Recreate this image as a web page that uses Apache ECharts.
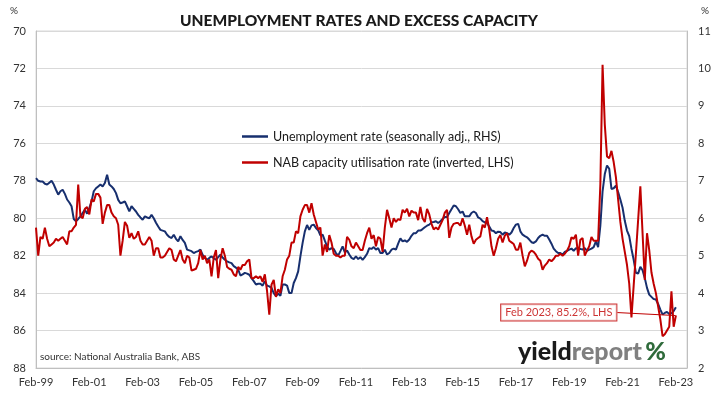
<!DOCTYPE html>
<html><head><meta charset="utf-8">
<script src="https://cdn.jsdelivr.net/npm/echarts@6/dist/echarts.min.js"></script>
<style>html,body{margin:0;padding:0;background:#fff}#c{width:718px;height:394px}</style>
</head><body><div id="c"></div>
<script>
// ---- data ----
const startYear = 1999, startMonth = 1; // Feb-99 (0-based month)
const monthCount = 294;                 // axis runs a few months past Feb-23
const monthNames = ['Jan','Feb','Mar','Apr','May','Jun','Jul','Aug','Sep','Oct','Nov','Dec'];
const tickLabels = ['Feb-99','Feb-01','Feb-03','Feb-05','Feb-07','Feb-09','Feb-11','Feb-13','Feb-15','Feb-17','Feb-19','Feb-21','Feb-23'];
const leftTicks = [70,72,74,76,78,80,82,84,86,88];
const rightTicks = [2,3,4,5,6,7,8,9,10,11];

// Unemployment rate, seasonally adjusted (%), monthly from Feb-99 (RHS)
const unemployment = [
 7.07,7.0,6.98,6.98,6.92,6.9,6.95,7.0,6.9,6.76,
 6.63,6.72,6.76,6.65,6.5,6.42,6.32,5.98,5.92,5.98,
 6.05,6.14,6.23,6.12,6.27,6.45,6.72,6.8,6.85,6.9,
 6.85,6.94,7.16,6.9,6.85,6.78,6.67,6.49,6.4,6.42,
 6.45,6.32,6.18,6.32,6.25,6.18,6.09,6.02,5.96,6.05,
 6.02,6.0,6.09,6.0,5.88,5.78,5.69,5.67,5.65,5.56,
 5.5,5.47,5.56,5.45,5.38,5.52,5.42,5.34,5.16,5.14,
 5.12,5.07,5.1,5.12,5.16,5.02,4.94,4.89,4.94,4.98,
 4.93,4.89,4.96,5.03,4.95,4.89,4.85,4.82,4.8,4.72,
 4.68,4.63,4.47,4.5,4.54,4.52,4.49,4.4,4.32,4.23,
 4.25,4.25,4.2,4.32,4.2,4.18,4.14,4.0,3.92,3.99,
 3.93,4.23,4.23,4.2,4.0,4.0,4.27,4.4,4.58,4.98,
 5.34,5.65,5.82,5.69,5.81,5.83,5.74,5.68,5.54,5.56,
 5.4,5.25,5.16,5.2,5.18,5.07,5.0,5.12,5.25,5.09,
 5.14,5.03,4.94,4.91,4.98,4.91,4.96,4.89,4.96,5.05,
 5.2,5.18,5.23,5.16,5.2,5.07,5.07,5.16,5.03,5.07,
 5.16,5.19,5.16,5.32,5.46,5.38,5.41,5.37,5.43,5.53,
 5.6,5.6,5.67,5.67,5.71,5.76,5.8,5.83,5.89,5.9,
 5.92,5.87,5.92,5.98,6.03,6.03,6.14,6.24,6.34,6.32,
 6.24,6.14,6.18,6.05,6.05,6.05,6.14,6.18,6.14,6.02,
 5.99,5.92,5.89,5.87,5.78,5.67,5.66,5.6,5.64,5.63,
 5.56,5.62,5.6,5.56,5.62,5.74,5.83,5.85,5.65,5.56,
 5.52,5.49,5.43,5.36,5.34,5.38,5.47,5.53,5.56,5.53,
 5.53,5.43,5.32,5.19,5.12,5.07,5.07,5.03,5.1,5.13,
 5.16,5.19,5.13,5.2,5.18,5.18,5.16,5.2,5.13,5.16,
 5.19,5.23,5.38,5.23,5.8,6.72,7.18,7.41,7.32,6.78,
 6.8,6.87,6.7,6.5,6.28,5.93,5.67,5.52,5.18,4.89,
 4.54,4.52,4.7,4.61,4.4,4.14,3.96,3.9,3.84,3.83,
 3.71,3.56,3.43,3.47,3.5,3.44,3.46,3.52,3.62
];

// NAB capacity utilisation rate (%), monthly from Feb-99 (LHS, inverted)
const capacity = [
 80.5,82.0,81.0,81.1,80.5,81.1,81.5,81.4,81.3,81.1,
 81.2,81.1,81.0,81.2,81.4,80.7,80.7,80.5,80.35,78.2,
 79.9,80.0,79.5,79.4,79.8,79.0,79.1,78.7,78.7,78.9,
 80.3,79.7,79.3,79.3,79.7,79.9,80.0,80.35,82.0,81.2,
 80.2,80.4,81.05,80.8,81.1,81.0,80.7,81.2,81.4,81.4,
 81.2,81.0,81.2,82.0,81.6,81.6,82.1,82.1,82.0,81.8,
 81.6,81.7,82.2,82.3,82.0,81.7,82.2,82.4,82.0,82.1,
 82.8,82.75,82.7,82.4,81.7,82.2,82.0,82.4,82.2,83.1,
 82.1,81.7,83.2,82.2,81.6,82.0,82.6,82.7,82.75,83.0,
 83.1,82.6,82.75,82.5,82.5,82.3,82.2,83.2,83.2,83.1,
 83.2,83.1,83.4,83.0,83.9,85.15,83.55,83.3,84.2,83.8,
 84.0,83.1,82.75,82.2,82.0,81.3,81.3,80.7,80.8,79.9,
 79.55,79.3,79.3,79.7,79.2,79.8,80.2,80.6,80.5,82.0,
 81.4,81.8,80.9,81.3,81.9,82.0,82.0,82.1,82.0,82.0,
 81.0,81.15,81.5,81.6,81.3,81.5,81.7,81.7,81.2,80.8,
 80.5,81.1,80.9,81.5,81.0,81.1,81.8,80.5,79.55,80.0,
 80.5,80.0,80.2,80.05,80.1,79.55,79.7,79.5,79.9,79.6,
 79.7,79.7,80.1,79.4,80.0,80.2,79.5,79.8,80.3,80.6,
 80.5,80.6,80.35,80.1,79.7,79.55,81.05,80.5,80.3,80.26,
 80.26,80.4,80.0,80.4,80.88,80.35,80.97,81.36,81.15,81.06,
 80.97,80.35,80.5,79.95,80.6,81.5,82.0,81.6,81.1,80.9,
 81.3,80.93,80.8,81.2,81.29,81.38,81.68,81.68,81.3,82.0,
 82.57,82.27,81.86,81.73,81.8,81.95,82.16,82.27,82.75,82.53,
 82.4,82.2,82.3,82.18,82.0,82.0,81.9,82.0,81.9,81.73,
 81.5,81.02,81.1,80.88,82.0,81.15,81.06,82.0,81.73,81.5,
 81.0,81.2,81.2,81.2,78.2,71.8,75.0,76.7,76.8,76.4,
 77.0,77.8,79.0,80.2,81.1,81.8,82.5,83.5,85.3,83.6,
 81.9,80.1,78.3,80.8,83.3,80.8,81.7,82.9,83.5,84.0,
 84.7,85.4,86.3,86.2,86.0,85.8,83.9,85.8,85.2
];

const annotationIndex = 288;
const annotationValue = 85.2;
const annotationText = 'Feb 2023, 85.2%, LHS';

// ---- chart ----
const categories = [];
for (let i = 0; i < monthCount; i++) {
  const mm = startMonth + i;
  const yy = startYear + Math.floor(mm / 12);
  categories.push(monthNames[mm % 12] + '-' + String(yy % 100).padStart(2, '0'));
}

const FONT = "Lato, 'Noto Sans', sans-serif";
const BLUE = '#172f6e', RED = '#c00000';
const chart = echarts.init(document.getElementById('c'));
chart.setOption({
  animation: false,
  backgroundColor: '#ffffff',
  title: {
    text: 'UNEMPLOYMENT RATES AND EXCESS CAPACITY',
    left: 'center', top: 8,
    textStyle: {fontFamily: FONT, fontSize: 15.5, fontWeight: 900, color: '#1a1a1a'}
  },
  grid: {left: 36, right: 31, top: 31, bottom: 26, show: true, borderColor: '#d9d9d9', borderWidth: 1},
  legend: {
    data: [
      {name: 'Unemployment rate (seasonally adj., RHS)', icon: 'rect', itemStyle: {color: BLUE}},
      {name: 'NAB capacity utilisation rate (inverted, LHS)', icon: 'rect', itemStyle: {color: RED}}
    ],
    orient: 'vertical', left: 237, top: 125, itemWidth: 26, itemHeight: 2.5, itemGap: 13,
    textStyle: {fontFamily: FONT, fontSize: 12.5, color: '#1a1a1a'}
  },
  xAxis: {
    type: 'category', data: categories, boundaryGap: false,
    axisLine: {onZero: false, lineStyle: {color: '#bfbfbf'}},
    axisTick: {show: false},
    axisLabel: {
      interval: 23, margin: 9, fontFamily: FONT, fontSize: 11, color: '#333',
      formatter: v => tickLabels.indexOf(v) >= 0 ? v : ''
    },
    splitLine: {show: false}
  },
  yAxis: [
    {type: 'value', inverse: true, min: leftTicks[0], max: leftTicks[leftTicks.length - 1], interval: 2, position: 'left',
     axisLine: {show: true, lineStyle: {color: '#bfbfbf'}}, axisTick: {show: false},
     axisLabel: {margin: 10, fontFamily: FONT, fontSize: 11, color: '#333'},
     splitLine: {lineStyle: {color: '#d9d9d9'}}},
    {type: 'value', min: rightTicks[0], max: rightTicks[rightTicks.length - 1], interval: 1, position: 'right',
     axisLine: {show: true, lineStyle: {color: '#bfbfbf'}}, axisTick: {show: false},
     axisLabel: {margin: 11, fontFamily: FONT, fontSize: 11, color: '#333'},
     splitLine: {show: false}}
  ],
  series: [
    {name: 'Unemployment rate (seasonally adj., RHS)', type: 'line', yAxisIndex: 1, data: unemployment,
     symbol: 'none', lineStyle: {color: BLUE, width: 2}, itemStyle: {color: BLUE}},
    {name: 'NAB capacity utilisation rate (inverted, LHS)', type: 'line', yAxisIndex: 0, data: capacity,
     symbol: 'none', lineStyle: {color: RED, width: 2}, itemStyle: {color: RED}},
    {type: 'scatter', yAxisIndex: 0, silent: true, z: 5,
     data: [[annotationIndex, annotationValue]], symbolSize: 1, itemStyle: {color: RED},
     label: {show: true, position: 'left', distance: 4, formatter: annotationText,
             fontFamily: FONT, fontSize: 11, color: RED, backgroundColor: '#fff',
             borderColor: RED, borderWidth: 1, padding: [3, 4, 2, 4]},
     labelLayout: {dx: -55, dy: -3},
     labelLine: {show: true, lineStyle: {color: RED, width: 1}}}
  ],
  graphic: [
    {type: 'text', left: 10, top: 6, style: {text: '%', font: '10px ' + FONT, fill: '#333'}},
    {type: 'text', left: 701, top: 6, style: {text: '%', font: '10px ' + FONT, fill: '#333'}},
    {type: 'text', left: 40, top: 352, style: {text: 'source: National Australia Bank, ABS', font: '10px ' + FONT, fill: '#333'}},
    {type: 'text', left: 518, top: 339, style: {
      text: '{a|yield}{b|report} {c|%}',
      rich: {
        a: {fontFamily: FONT, fontSize: 25, fontWeight: 900, fill: '#1a1a1a'},
        b: {fontFamily: FONT, fontSize: 25, fontWeight: 900, fill: '#808080'},
        c: {fontFamily: FONT, fontSize: 25, fontWeight: 900, fill: '#2f6b3b'}
      }}}
  ]
});
</script></body></html>
